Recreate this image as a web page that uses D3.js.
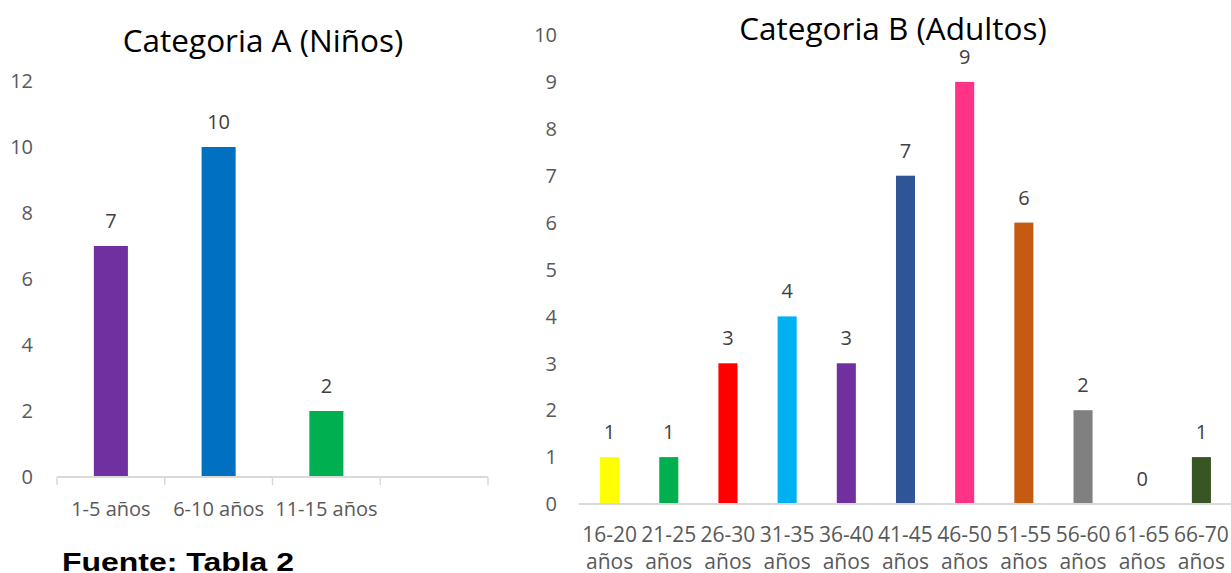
<!DOCTYPE html>
<html>
<head>
<meta charset="utf-8">
<script src="https://cdn.jsdelivr.net/npm/d3@7"></script>
<style>
  html, body { margin: 0; padding: 0; background: #fff; }
  svg { display: block; }
  text { font-family: "Open Sans", "Noto Sans", sans-serif; }
  text.source { font-family: "Liberation Sans", Arial, sans-serif; font-weight: bold; }
</style>
</head>
<body>
<svg id="chart" width="1231" height="573"></svg>
<script>
// Categoria A (Niños)
const catsA = ["1-5 años", "6-10 años", "11-15 años", ""];
const valsA = [7, 10, 2, null];
const colorsA = ["#7030a0", "#0070c0", "#00b050", null];
const ticksA = [0, 2, 4, 6, 8, 10, 12];

// Categoria B (Adultos)
const catsB = ["16-20 años", "21-25 años", "26-30 años", "31-35 años", "36-40 años",
               "41-45 años", "46-50 años", "51-55 años", "56-60 años", "61-65 años", "66-70 años"];
const valsB = [1, 1, 3, 4, 3, 7, 9, 6, 2, 0, 1];
const colorsB = ["#ffff00", "#00b050", "#ff0000", "#00b0f0", "#7030a0",
                 "#2f5597", "#ff3385", "#c55a11", "#808080", "#a5a5a5", "#375623"];
const ticksB = [0, 1, 2, 3, 4, 5, 6, 7, 8, 9, 10];

const svg = d3.select("#chart");
const AXIS_GRAY = "#d9d9d9";
const LABEL_GRAY = "#595959";
const VALUE_GRAY = "#404040";

function drawPanel(opts) {
  const g = svg.append("g");
  const y = d3.scaleLinear().domain(opts.yDomain).range(opts.yRange);
  const pad = opts.pad;
  const x = d3.scaleBand().domain(opts.cats).range(opts.xRange)
    .paddingInner(pad).paddingOuter(pad / 2);

  // title
  g.append("text")
    .attr("x", opts.titleX).attr("y", opts.titleY)
    .attr("text-anchor", "middle")
    .attr("font-size", 31.5).attr("fill", "#000")
    .text(opts.title);

  // value axis labels
  g.selectAll(".ytick").data(opts.ticks).join("text")
    .attr("x", opts.yLabelX).attr("y", d => y(d))
    .attr("dy", "0.36em")
    .attr("text-anchor", "end")
    .attr("font-size", 20).attr("fill", LABEL_GRAY)
    .text(d => d);

  // bars
  const data = opts.cats.map((c, i) => ({ c, v: opts.vals[i], col: opts.colors[i] }))
    .filter(d => d.v !== null);
  g.selectAll(".bar").data(data).join("rect")
    .attr("x", d => x(d.c))
    .attr("width", x.bandwidth())
    .attr("y", d => y(d.v))
    .attr("height", d => y(0) - y(d.v))
    .attr("fill", d => d.col);

  // category axis line
  const axis = d3.axisBottom(x).tickSize(0).tickFormat("");
  const ax = g.append("g").attr("transform", `translate(0,${y(0)})`).call(axis);
  ax.select(".domain")
    .attr("d", `M${opts.axisX0},0H${opts.xRange[1]}`)
    .attr("stroke", AXIS_GRAY).attr("stroke-width", 2);

  // boundary tick marks between categories
  if (opts.boundaryTicks) {
    const bounds = d3.range(opts.cats.length + 1).map(i => opts.xRange[0] + i * x.step());
    g.selectAll(".btick").data(bounds).join("line")
      .attr("x1", d => d).attr("x2", d => d)
      .attr("y1", y(0)).attr("y2", y(0) + 8)
      .attr("stroke", AXIS_GRAY).attr("stroke-width", 1.5);
  }

  // value labels
  g.selectAll(".val").data(data).join("text")
    .attr("x", d => x(d.c) + x.bandwidth() / 2)
    .attr("y", d => y(d.v) - 18)
    .attr("text-anchor", "middle")
    .attr("font-size", 20).attr("fill", VALUE_GRAY)
    .text(d => d.v);

  // category labels
  const cl = g.selectAll(".cat").data(opts.cats.filter(c => c !== "")).join("text")
    .attr("text-anchor", "middle")
    .attr("font-size", opts.catSize).attr("fill", LABEL_GRAY);
  if (opts.wrap) {
    cl.each(function (c) {
      const parts = c.split(" ");
      const t = d3.select(this);
      const cx = x(c) + x.bandwidth() / 2;
      t.append("tspan").attr("x", cx).attr("y", opts.catY).text(parts[0]);
      t.append("tspan").attr("x", cx).attr("y", opts.catY2).text(parts.slice(1).join(" "));
    });
  } else {
    cl.attr("x", c => x(c) + x.bandwidth() / 2).attr("y", opts.catY).text(c => c);
  }
}

drawPanel({
  title: "Categoria A (Niños)", titleX: 263, titleY: 52,
  cats: catsA, vals: valsA, colors: colorsA, ticks: ticksA,
  yDomain: [0, 12], yRange: [477, 81],
  xRange: [57, 488], axisX0: 57, pad: 0.684,
  yLabelX: 33, boundaryTicks: true,
  catSize: 20, catY: 516, wrap: false
});

drawPanel({
  title: "Categoria B (Adultos)", titleX: 893, titleY: 40,
  cats: catsB, vals: valsB, colors: colorsB, ticks: ticksB,
  yDomain: [0, 10], yRange: [504, 35],
  xRange: [580, 1231], axisX0: 579, pad: 0.678,
  yLabelX: 557, boundaryTicks: false,
  catSize: 21, catY: 542, catY2: 569, wrap: true
});

// source note
svg.append("text")
  .attr("class", "source")
  .attr("x", 62).attr("y", 571)
  .attr("font-size", 26.5)
  .attr("textLength", 232).attr("lengthAdjust", "spacingAndGlyphs")
  .attr("fill", "#000")
  .text("Fuente: Tabla 2");
</script>
</body>
</html>
